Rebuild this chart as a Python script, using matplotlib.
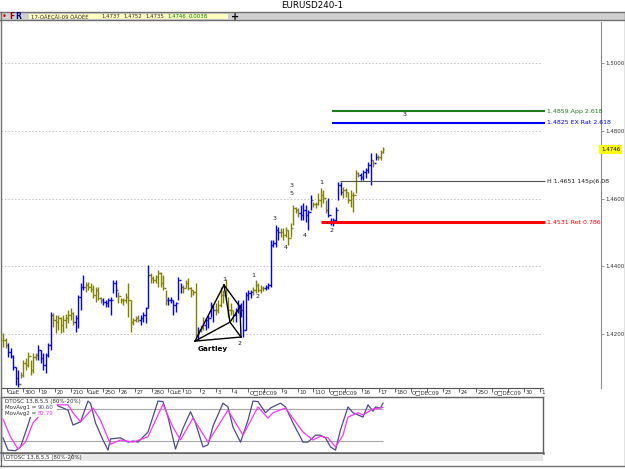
import matplotlib
matplotlib.use("Agg")
import matplotlib.pyplot as plt
import numpy as np
from matplotlib.patches import Rectangle, Polygon
from matplotlib.lines import Line2D

# -- data: EURUSD H4 bars (high, low, close), open = previous close ---------------
highs = [1.4203, 1.4188, 1.4173, 1.4159, 1.4138, 1.4102, 1.4094, 1.4088, 1.4123, 1.4129,
         1.4147, 1.4123, 1.4144, 1.4144, 1.4167, 1.4153, 1.4144, 1.4144, 1.4173, 1.4265,
         1.4262, 1.4256, 1.4256, 1.4250, 1.4256, 1.4259, 1.4271, 1.4277, 1.4265, 1.4256,
         1.4315, 1.4351, 1.4374, 1.4354, 1.4354, 1.4351, 1.4345, 1.4339, 1.4339, 1.4309,
         1.4306, 1.4301, 1.4306, 1.4309, 1.4360, 1.4360, 1.4324, 1.4306, 1.4306, 1.4321,
         1.4351, 1.4301, 1.4247, 1.4253, 1.4256, 1.4256, 1.4265, 1.4280, 1.4404, 1.4380,
         1.4372, 1.4374, 1.4389, 1.4383, 1.4374, 1.4330, 1.4309, 1.4309, 1.4301, 1.4295,
         1.4369, 1.4351, 1.4345, 1.4360, 1.4366, 1.4339, 1.4330, 1.4351, 1.4221, 1.4227,
         1.4250, 1.4247, 1.4256, 1.4295, 1.4286, 1.4292, 1.4301, 1.4339, 1.4330, 1.4363,
         1.4309, 1.4292, 1.4271, 1.4277, 1.4301, 1.4292, 1.4301, 1.4324, 1.4330, 1.4330,
         1.4339, 1.4360, 1.4351, 1.4345, 1.4342, 1.4345, 1.4351, 1.4478, 1.4478, 1.4522,
         1.4516, 1.4513, 1.4513, 1.4516, 1.4508, 1.4528, 1.4581, 1.4576, 1.4573, 1.4581,
         1.4587, 1.4581, 1.4567, 1.4611, 1.4590, 1.4590, 1.4617, 1.4632, 1.4626, 1.4596,
         1.4602, 1.4543, 1.4543, 1.4576, 1.4649, 1.4649, 1.4635, 1.4632, 1.4620, 1.4626,
         1.4620, 1.4685, 1.4679, 1.4676, 1.4685, 1.4691, 1.4709, 1.4735, 1.4715, 1.4735,
         1.4729, 1.4744, 1.4752]
lows = [1.4162, 1.4159, 1.4132, 1.4129, 1.4094, 1.4049, 1.4043, 1.4070, 1.4073, 1.4094,
        1.4102, 1.4079, 1.4085, 1.4123, 1.4123, 1.4114, 1.4094, 1.4085, 1.4132, 1.4153,
        1.4221, 1.4203, 1.4212, 1.4203, 1.4206, 1.4218, 1.4233, 1.4241, 1.4227, 1.4206,
        1.4218, 1.4271, 1.4330, 1.4324, 1.4330, 1.4324, 1.4306, 1.4295, 1.4301, 1.4292,
        1.4286, 1.4280, 1.4280, 1.4256, 1.4321, 1.4309, 1.4292, 1.4292, 1.4286, 1.4292,
        1.4250, 1.4206, 1.4227, 1.4235, 1.4235, 1.4227, 1.4235, 1.4233, 1.4277, 1.4351,
        1.4351, 1.4351, 1.4339, 1.4339, 1.4330, 1.4286, 1.4286, 1.4292, 1.4256, 1.4265,
        1.4301, 1.4321, 1.4321, 1.4336, 1.4330, 1.4309, 1.4315, 1.4191, 1.4182, 1.4206,
        1.4212, 1.4212, 1.4218, 1.4250, 1.4235, 1.4256, 1.4262, 1.4280, 1.4292, 1.4309,
        1.4250, 1.4256, 1.4235, 1.4235, 1.4262, 1.4250, 1.4191, 1.4212, 1.4301, 1.4306,
        1.4315, 1.4321, 1.4324, 1.4321, 1.4327, 1.4330, 1.4333, 1.4339, 1.4457, 1.4457,
        1.4478, 1.4487, 1.4478, 1.4487, 1.4463, 1.4487, 1.4522, 1.4558, 1.4546, 1.4537,
        1.4537, 1.4531, 1.4508, 1.4567, 1.4576, 1.4573, 1.4581, 1.4576, 1.4587, 1.4558,
        1.4546, 1.4522, 1.4519, 1.4531, 1.4596, 1.4611, 1.4602, 1.4605, 1.4587, 1.4576,
        1.4561, 1.4617, 1.4664, 1.4655, 1.4655, 1.4661, 1.4676, 1.4641, 1.4694, 1.4715,
        1.4715, 1.4715, 1.4735]
closes = [1.4182, 1.4167, 1.4147, 1.4135, 1.4102, 1.4070, 1.4052, 1.4079, 1.4114, 1.4108,
          1.4135, 1.4094, 1.4132, 1.4138, 1.4153, 1.4129, 1.4108, 1.4138, 1.4167, 1.4256,
          1.4241, 1.4235, 1.4247, 1.4227, 1.4241, 1.4247, 1.4256, 1.4262, 1.4235, 1.4247,
          1.4309, 1.4339, 1.4339, 1.4345, 1.4339, 1.4333, 1.4315, 1.4330, 1.4306, 1.4301,
          1.4295, 1.4292, 1.4301, 1.4301, 1.4351, 1.4330, 1.4312, 1.4301, 1.4301, 1.4309,
          1.4301, 1.4235, 1.4241, 1.4247, 1.4241, 1.4247, 1.4256, 1.4277, 1.4374, 1.4366,
          1.4360, 1.4369, 1.4380, 1.4351, 1.4336, 1.4301, 1.4301, 1.4301, 1.4286, 1.4292,
          1.4360, 1.4339, 1.4336, 1.4351, 1.4336, 1.4330, 1.4324, 1.4197, 1.4212, 1.4218,
          1.4227, 1.4241, 1.4247, 1.4286, 1.4271, 1.4271, 1.4286, 1.4315, 1.4315, 1.4330,
          1.4271, 1.4271, 1.4256, 1.4271, 1.4286, 1.4271, 1.4212, 1.4315, 1.4321, 1.4324,
          1.4330, 1.4345, 1.4330, 1.4336, 1.4336, 1.4339, 1.4345, 1.4463, 1.4469, 1.4508,
          1.4502, 1.4502, 1.4493, 1.4508, 1.4484, 1.4513, 1.4573, 1.4567, 1.4558, 1.4552,
          1.4567, 1.4552, 1.4561, 1.4596, 1.4584, 1.4584, 1.4596, 1.4611, 1.4602, 1.4567,
          1.4552, 1.4531, 1.4537, 1.4567, 1.4641, 1.4620, 1.4626, 1.4620, 1.4596, 1.4611,
          1.4611, 1.4676, 1.4670, 1.4664, 1.4679, 1.4685, 1.4700, 1.4715, 1.4706, 1.4723,
          1.4723, 1.4738, 1.4746]
# bar colouring from the chart's trend indicator: o = olive, b = blue (run lengths)
trend_runs = [("o", 2), ("b", 5), ("o", 7), ("b", 6), ("o", 9), ("b", 4), ("o", 7), ("b", 6),
              ("o", 9), ("b", 4), ("o", 7), ("b", 6), ("o", 6), ("b", 1), ("o", 2), ("b", 4),
              ("o", 8), ("b", 7), ("o", 5), ("b", 6), ("o", 8), ("b", 5), ("o", 6), ("b", 6),
              ("o", 7), ("b", 5), ("o", 1), ("b", 1), ("o", 3)]

price_ticks = [1.42, 1.44, 1.46, 1.48, 1.50]
last_price = 1.4746

# horizontal levels drawn by the Fibonacci indicator
lvl_price = [1.4859, 1.4825, 1.4651, 1.4531]
lvl_start = [131.6, 131.6, 134.8, 127.2]
lvl_text = ["1.4859 App 2.618", "1.4825 EX Rat 2.618", "H 1.4651 145p(6.08", "1.4531 Ret 0.786"]
lvl_color = ["#1e7b1e", "#0000ff", "#505050", "#ff0000"]
lvl_width = [1.5, 1.5, 0.8, 2.2]

# wave count labels (bar index, price)
wave_txt = ["1", "2", "3", "4", "3", "5", "4", "1", "2", "3", "1", "2"]
wave_idx = [100.0, 102.0, 108.8, 113.2, 115.6, 115.6, 120.8, 127.2, 131.6, 160.8, 88.4, 94.8]
wave_px = [1.4372, 1.4312, 1.4543, 1.4457, 1.4639, 1.4614, 1.4490, 1.4649, 1.4505, 1.4848,
           1.4360, 1.4173]

# Gartley pattern points X A B C D
gart_idx = [76.8, 88.4, 90.8, 94.8, 95.2]
gart_px = [1.4179, 1.4345, 1.4235, 1.4280, 1.4191]

# date axis (the year stamp overprints the month label on the slot after it)
date_pos = [1.6, 8.0, 14.4, 20.8, 27.2, 33.6, 40.0, 46.4, 52.8, 59.6, 66.0, 72.0, 78.8, 85.2,
            91.6, 98.0, 104.4, 111.6, 118.0, 124.0, 130.4, 136.8, 143.6, 150.4, 156.8, 163.2,
            169.6, 176.0, 182.4, 189.2, 195.6, 202.0, 208.4, 214.8]
date_lbl = ["СшЕ", "30О", "19", "20", "21О", "СшЕ", "25О", "26", "27", "28О", "СшЕ", "1О",
            "2", "3", "4", "О□DEC09", "", "9", "10", "11О", "О□DEC09", "", "16", "17",
            "18О", "О□DEC09", "", "23", "24", "25О", "О□DEC09", "", "30", "1"]

# DTOSC oscillator (bar index, value)
osc1_idx = [0, 2, 5, 7, 10, 11, 16, 21, 26, 28, 31, 34, 35, 37, 40, 42, 43, 47, 50, 52, 54,
            58, 62, 64, 66, 69, 72, 75, 77, 80, 82, 84, 88, 90, 92, 95, 98, 100, 102, 105,
            107, 111, 113, 116, 120, 122, 125, 127, 129, 131, 133, 135, 138, 140, 144, 146,
            148, 149, 151, 152]
osc1_val = [26, 3, 2, 9, 50, 65, 88, 88, 78, 50, 56, 95, 91, 54, 22, 3, 24, 26, 18, 20, 18,
            37, 95, 94, 65, 5, 44, 75, 54, 9, 13, 48, 91, 84, 46, 18, 59, 95, 94, 73,
            82, 91, 84, 54, 18, 18, 31, 31, 26, 9, 3, 41, 84, 73, 65, 88,
            76, 84, 82, 91]
osc2_idx = [0, 3, 6, 9, 12, 17, 22, 26, 28, 31, 36, 39, 43, 47, 52, 58, 64, 68, 71, 76, 82,
            90, 96, 102, 106, 108, 113, 120, 124, 127, 130, 133, 136, 138, 142, 144, 148, 152]
osc2_val = [61, 28, 5, 18, 54, 80, 88, 88, 73, 56, 82, 59, 14, 22, 18, 28, 89, 46, 22, 63, 18,
            78, 31, 84, 63, 73, 82, 37, 22, 29, 26, 9, 31, 65, 73, 69, 80, 83]
osc_levels = [20, 80]

# -- figure -----------------------------------------------------------------------------
W, H = 625, 469
BLUE, OLIVE = "#0000ff", "#808000"
EDGE = "#707070"
fig = plt.figure(figsize=(W / 100, H / 100), dpi=100)


def rect(x0, y0, x1, y1):
    return [x0 / W, 1 - y1 / H, (x1 - x0) / W, (y1 - y0) / H]


def fx(x):
    return x / W


def fy(y):
    return 1 - y / H


# window chrome
fig.patches.append(Rectangle((0, fy(20.5)), 1, fy(12.5) - fy(20.5), transform=fig.transFigure,
                             fc="#d0d0d0", ec="none", zorder=0))
for (x0, y0, x1, y1) in [(0, 12.5, 625, 12.5), (0, 20.5, 625, 20.5), (0.5, 12, 0.5, 466),
                         (624.5, 12, 624.5, 466), (0, 465.5, 625, 465.5)]:
    fig.lines.append(Line2D([fx(x0), fx(x1)], [fy(y0), fy(y1)], transform=fig.transFigure,
                            color=EDGE, lw=1))
fig.text(fx(312), fy(6), "EURUSD240-1", fontsize=6.3, ha="center", va="center")
fig.text(fx(4), fy(16.8), "•", color="#e00000", fontsize=6, ha="center", va="center")
fig.text(fx(12), fy(16.8), "F", color="#900000", fontsize=5.5, weight="bold", ha="center", va="center")
fig.text(fx(18.5), fy(16.8), "R", color="#000090", fontsize=5.5, weight="bold", ha="center", va="center")
fig.patches.append(Rectangle((fx(29), fy(19.5)), fx(228) - fx(29), fy(14) - fy(19.5),
                             transform=fig.transFigure, fc="#ffffc0", ec="none"))
hdr = [("17-ÓÄÉÇÅÍ-09 ÔÃÓÊÉ", 31, "#303030"), ("1.4737", 101, "#303030"), ("1.4752", 123, "#303030"),
       ("1.4735", 145, "#303030"), ("1.4746", 167, "#008000"), ("0.0038", 189, "#008000")]
for t, x, c in hdr:
    fig.text(fx(x), fy(16.9), t, color=c, fontsize=3.9, va="center")
fig.text(fx(235), fy(16.8), "+", fontsize=7, weight="bold", ha="center", va="center")

# -- main price panel --------------------------------------------------------------------
ax = fig.add_axes(rect(1, 22, 601, 388))
n = len(closes)
x = np.arange(n)
opens = [closes[0]] + closes[:-1]
trend = "".join(c * k for c, k in trend_runs)
cols = [BLUE if t == "b" else OLIVE for t in trend]
ax.vlines(x, lows, highs, colors=cols, lw=1.0)
ax.hlines(opens, x - 0.45, x, colors=cols, lw=1.0)
ax.hlines(closes, x, x + 0.45, colors=cols, lw=1.0)

ax.hlines(price_ticks, -0.8, 215.2, colors="#c4c4c4", linestyles=(0, (1.5, 2)), lw=0.7, zorder=0)

for p, s, t, c, w in zip(lvl_price, lvl_start, lvl_text, lvl_color, lvl_width):
    ax.hlines(p, s, 216.8, colors=c, lw=w)
    ax.text(217.6, p, t, color="#202020" if t.startswith("H") else c, fontsize=4.5, va="center")

for t, i, p in zip(wave_txt, wave_idx, wave_px):
    ax.text(i, p, t, fontsize=4.6, ha="center", va="center", color="#202020")

gx = dict(zip("XABCD", gart_idx))
gy = dict(zip("XABCD", gart_px))
for a, b in ["XA", "AB", "BX", "BC", "CD", "DB", "XD", "AC"]:
    ax.plot([gx[a], gx[b]], [gy[a], gy[b]], color="black", lw=1.0)
ax.text(84, 1.4156, "Gartley", fontsize=5.2, weight="bold", ha="center", va="center")

ax.set_xlim(-0.8, 239.2)
ax.set_ylim(1.40403, 1.51226)
for s in ["top", "left"]:
    ax.spines[s].set_visible(False)
ax.spines["right"].set_color("#8a8a8a")
ax.spines["bottom"].set_color("#505050")
ax.spines["bottom"].set_bounds(-0.8, 216.0)
ax.yaxis.tick_right()
ax.set_yticks(price_ticks)
ax.set_yticklabels([f"{p:.4f}" for p in price_ticks])
ax.tick_params(axis="y", length=2, width=0.6, colors="#8a8a8a", labelsize=4.0,
               labelcolor="#303030", pad=0.8)
ax.set_xticks(date_pos)
ax.set_xticklabels([])
ax.tick_params(axis="x", length=3, width=0.6, colors="#505050")
for pos, lbl in zip(date_pos, date_lbl):
    if lbl:
        ax.text(pos + 0.5, -0.006, lbl, transform=ax.get_xaxis_transform(), fontsize=4.0,
                ha="left", va="top", color="#303030")
ax.text(1.0, last_price, "1.4746", transform=ax.get_yaxis_transform(), fontsize=4.0,
        va="center", ha="left", bbox=dict(fc="#ffff00", ec="none", pad=1.4))

# -- DTOSC panel -----------------------------------------------------------------------
ax2 = fig.add_axes(rect(1, 397, 543, 453))
ax2.hlines(osc_levels, -0.8, 152, colors="#a8a8a8", lw=0.8)
ax2.plot(osc1_idx, osc1_val, color="#4a4a90", lw=0.9)
ax2.plot(osc2_idx, osc2_val, color="#ff33ff", lw=0.9)
ax2.set_xlim(-0.8, 216.0)
ax2.set_ylim(-2.4, 102.6)
ax2.set_xticks([])
ax2.set_yticks([])
for s in ax2.spines.values():
    s.set_color("#606060")
    s.set_linewidth(1.0)
ax2.spines["bottom"].set_linewidth(1.8)
# white block behind the legend text hides the lines, as in the terminal
fig.patches.append(Rectangle((fx(3), fy(416.5)), fx(54), fy(398.5) - fy(416.5),
                             transform=fig.transFigure, fc="white", ec="none", zorder=3))
txt = dict(fontsize=4.0, va="center", zorder=4)
fig.text(fx(5), fy(401.5), "DTOSC 13,8,5,5 (80%-20%)", color="#303030", **txt)
fig.text(fx(5), fy(407.5), "MovAvg1 =", color="#303030", **txt)
fig.text(fx(38), fy(407.5), "90.60", color="#4a4a90", **txt)
fig.text(fx(5), fy(413.5), "MovAvg2 =", color="#303030", **txt)
fig.text(fx(38), fy(413.5), "82.79", color="#ff33ff", **txt)

# indicator tab strip
fig.patches.append(Rectangle((fx(0), fy(461)), fx(543), fy(454) - fy(461),
                             transform=fig.transFigure, fc="#e6e6e6", ec="none",
                             hatch="....", lw=0))
fig.patches.append(Polygon([(fx(3), fy(454)), (fx(73), fy(454)), (fx(70), fy(460.5)),
                            (fx(5), fy(460.5))], closed=True, transform=fig.transFigure,
                           fc="white", ec="#808080", lw=0.6))
fig.text(fx(6), fy(457.3), "DTOSC 13,8,5,5 (80%-20%)", fontsize=4.0, va="center", color="#303030")

fig.savefig("out.png", dpi=100)
